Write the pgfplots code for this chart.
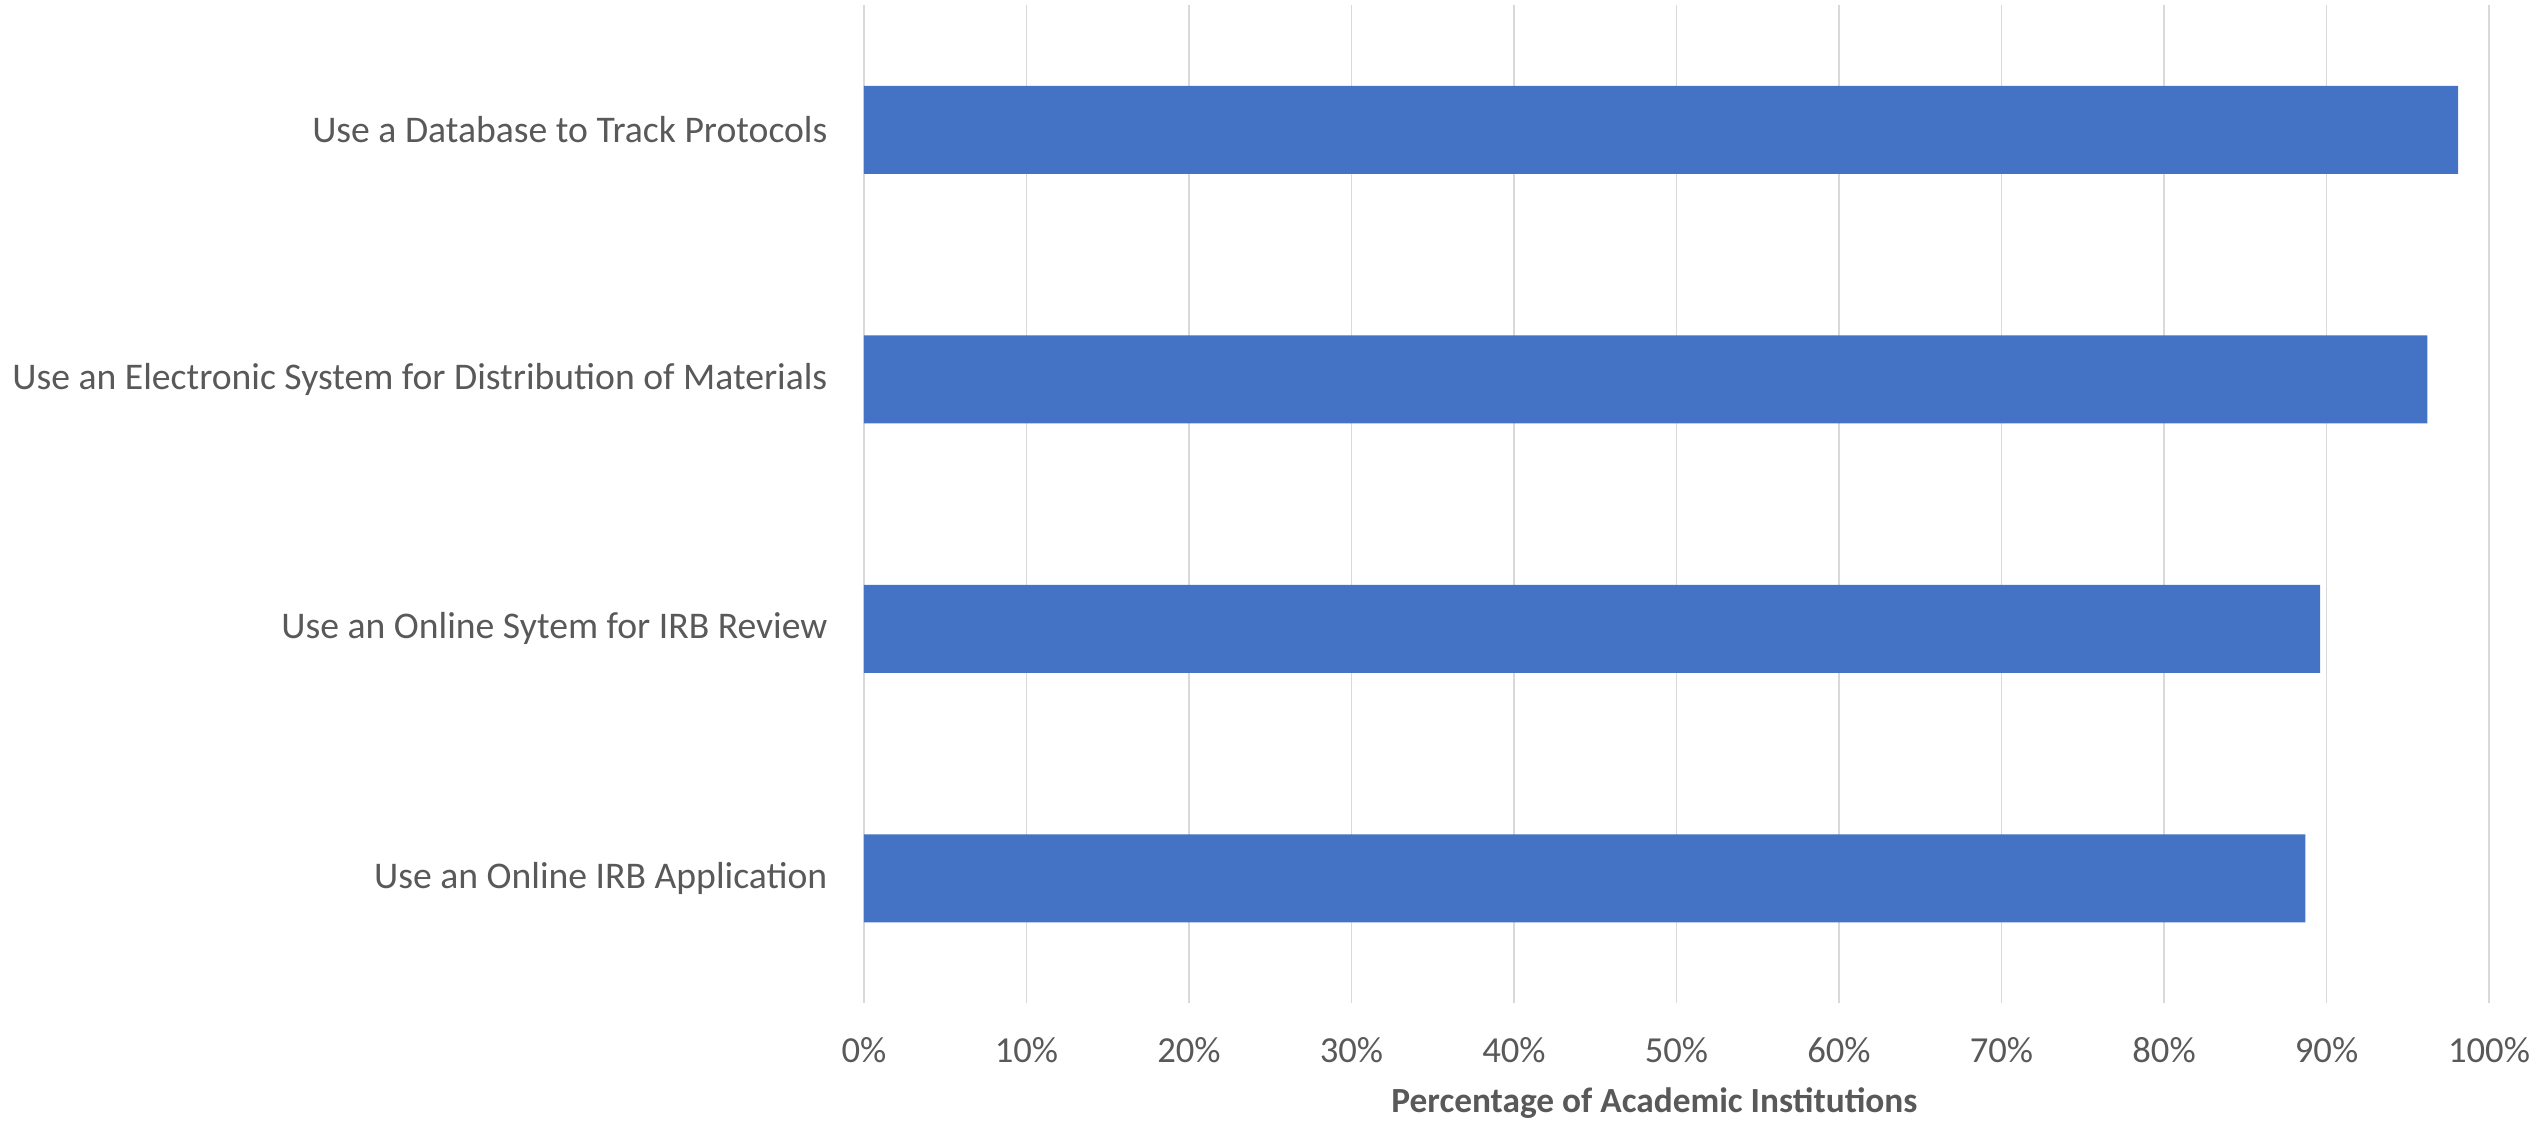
\documentclass[border=0pt]{standalone}
\usepackage{fontspec}
\setmainfont{Carlito}
\usepackage{pgfplots}
\pgfplotsset{compat=1.18}
\definecolor{barblue}{HTML}{4472C4}
\definecolor{txtgray}{HTML}{595959}
\definecolor{gridgray}{HTML}{D9D9D9}
\begin{document}
\begin{tikzpicture}
\begin{axis}[
  scale only axis, width=487.5pt, height=299.4pt,
  xbar, bar width=26.4pt,
  xmin=0, xmax=100, ymin=-0.5, ymax=3.5,
  xtick={0,10,20,30,40,50,60,70,80,90,100},
  xticklabels={0\%,10\%,20\%,30\%,40\%,50\%,60\%,70\%,80\%,90\%,100\%},
  ytick={0,1,2,3},
  yticklabels={Use an Online IRB Application, Use an Online Sytem for IRB Review, Use an Electronic System for Distribution of Materials, Use a Database to Track Protocols},
  axis line style={draw=none},
  major tick length=0pt,
  xmajorgrids, major grid style={gridgray, line width=0.5pt},
  tick label style={text=txtgray},
  yticklabel style={font=\fontsize{11.3pt}{13pt}\selectfont, anchor=east, inner sep=0pt, xshift=-10.8pt},
  xticklabel style={font=\fontsize{11pt}{13pt}\selectfont, anchor=north, inner sep=0pt, yshift=-10.2pt},
  xlabel={\bfseries Percentage of Academic Institutions},
  xlabel style={font=\fontsize{10.6pt}{13pt}\selectfont, text=txtgray, at={(axis description cs:0.5,0)}, anchor=north, inner sep=0pt, yshift=-25.2pt, xshift=-6.6pt},
  clip=false,
]
\addplot[fill=barblue, draw=none] coordinates {(88.7,0) (89.6,1) (96.2,2) (98.1,3)};
\coordinate (sw) at (rel axis cs:0,0);
\end{axis}
\pgfresetboundingbox
\path (sw) ++(-259.2pt,-36.3pt) rectangle ++(762.6pt,337.2pt);
\end{tikzpicture}
\end{document}
